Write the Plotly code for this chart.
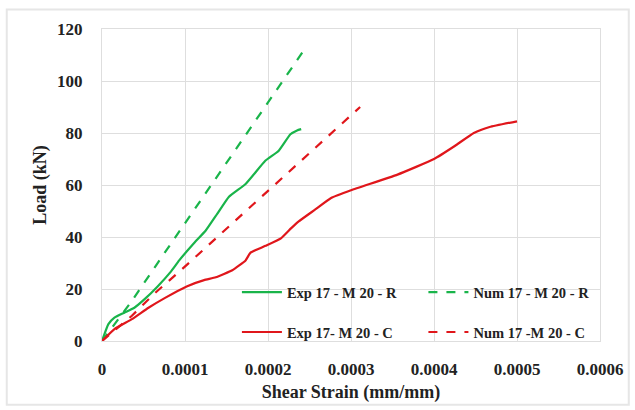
import plotly.graph_objects as go

# Exp 17 - M 20 - R
exp_r_x = [0, 0.0000077, 0.000015, 0.000027, 0.000039, 0.000051, 0.000067, 0.000083, 0.000093, 0.000111, 0.000125,
           0.000139, 0.000153, 0.000173, 0.000197, 0.000213, 0.000227, 0.000235, 0.00024]
exp_r_y = [0, 6.5, 9, 10.9, 12.8, 16, 21, 26.7, 31, 37.7, 42.5, 49, 55.5, 60.4, 69.4, 73.2, 79.5, 81, 81.5]

# Num 17 - M 20 - R
num_r_x = [0, 0.000036, 0.000066, 0.000243]
num_r_y = [0, 15.4, 29.5, 111.7]

# Exp 17- M 20 - C
exp_c_x = [0, 0.000015, 0.000036, 0.000056, 0.000076, 0.000102, 0.000123, 0.000137, 0.000157, 0.000173, 0.000179,
           0.000197, 0.000216, 0.000228, 0.000237, 0.000257, 0.000276, 0.0003, 0.000356, 0.0004, 0.000425, 0.000448,
           0.000467, 0.0005]
exp_c_y = [0, 4.6, 8.4, 12.8, 16.6, 21, 23.4, 24.5, 27.2, 31, 34, 36.6, 39.6, 43.4, 46, 50.6, 55, 58, 64, 70, 75, 80,
           82.3, 84.5]

# Num 17 -M 20 - C
num_c_x = [0, 0.000036, 0.000064, 0.000096, 0.000311]
num_c_y = [0, 9.7, 18.5, 27.5, 90]

x_ticks = [0, 0.0001, 0.0002, 0.0003, 0.0004, 0.0005, 0.0006]
x_labels = ["0", "0.0001", "0.0002", "0.0003", "0.0004", "0.0005", "0.0006"]
y_ticks = [0, 20, 40, 60, 80, 100, 120]
y_labels = ["0", "20", "40", "60", "80", "100", "120"]

green = "#19b44a"
red = "#e0161b"

fig = go.Figure()
fig.add_trace(go.Scatter(x=exp_r_x, y=exp_r_y, mode="lines", name="<b>Exp 17 - M 20 - R</b>",
                         line=dict(color=green, width=2.2, shape="spline", smoothing=0.4), legend="legend"))
fig.add_trace(go.Scatter(x=num_r_x, y=num_r_y, mode="lines", name="<b>Num 17 - M 20 - R</b>",
                         line=dict(color=green, width=2.2, dash="dash"), legend="legend2"))
fig.add_trace(go.Scatter(x=exp_c_x, y=exp_c_y, mode="lines", name="<b>Exp 17- M 20 - C</b>",
                         line=dict(color=red, width=2.2, shape="spline", smoothing=0.4), legend="legend"))
fig.add_trace(go.Scatter(x=num_c_x, y=num_c_y, mode="lines", name="<b>Num 17 -M 20 - C</b>",
                         line=dict(color=red, width=2.2, dash="dash"), legend="legend2"))

tickfont = dict(family="Liberation Serif", size=17, color="#222222")
legfont = dict(family="Liberation Serif", size=14.5, color="#222222")
fig.update_layout(
    width=635, height=410,
    margin=dict(l=102, r=31, t=29, b=63),
    paper_bgcolor="white", plot_bgcolor="white",
    font=dict(family="Liberation Serif", size=14, color="#222222"),
    xaxis=dict(range=[0, 0.0006], tickvals=x_ticks, ticktext=[f"<b>{t}</b>" for t in x_labels],
               showgrid=True, gridcolor="#dedede", gridwidth=1, zeroline=False,
               showline=True, linecolor="#dedede", mirror=True, ticks="", ticklabelstandoff=13,
               tickfont=tickfont,
               title=dict(text="<b>Shear Strain (mm/mm)</b>", font=dict(family="Liberation Serif", size=18, color="#222222"),
                          standoff=6)),
    yaxis=dict(range=[0, 120], tickvals=y_ticks, ticktext=[f"<b>{t}</b>" for t in y_labels],
               showgrid=True, gridcolor="#dedede", gridwidth=1, zeroline=False,
               showline=True, linecolor="#dedede", mirror=True, ticks="", ticklabelstandoff=15,
               tickfont=tickfont,
               title=dict(text="<b>Load (kN)</b>", font=dict(family="Liberation Serif", size=18, color="#222222"),
                          standoff=5)),
    legend=dict(x=(238 - 102) / 502, y=(347 - 281) / 318, xanchor="left", yanchor="top",
                bgcolor="rgba(0,0,0,0)", tracegroupgap=18, font=legfont, itemwidth=40),
    legend2=dict(x=(426 - 102) / 502, y=(347 - 281) / 318, xanchor="left", yanchor="top",
                 bgcolor="rgba(0,0,0,0)", tracegroupgap=18, font=legfont, itemwidth=40),
    showlegend=True,
)
for i, tr in enumerate(fig.data):
    tr.legendgroup = f"g{i}"

# faint outer chart-area border
fig.add_shape(type="rect", xref="paper", yref="paper",
              x0=(6 - 102) / 502, x1=(633 - 102) / 502, y0=(347 - 412) / 318, y1=(347 - 9) / 318,
              line=dict(color="#e6e6e6", width=2), layer="below")

fig.write_html("out.html")
